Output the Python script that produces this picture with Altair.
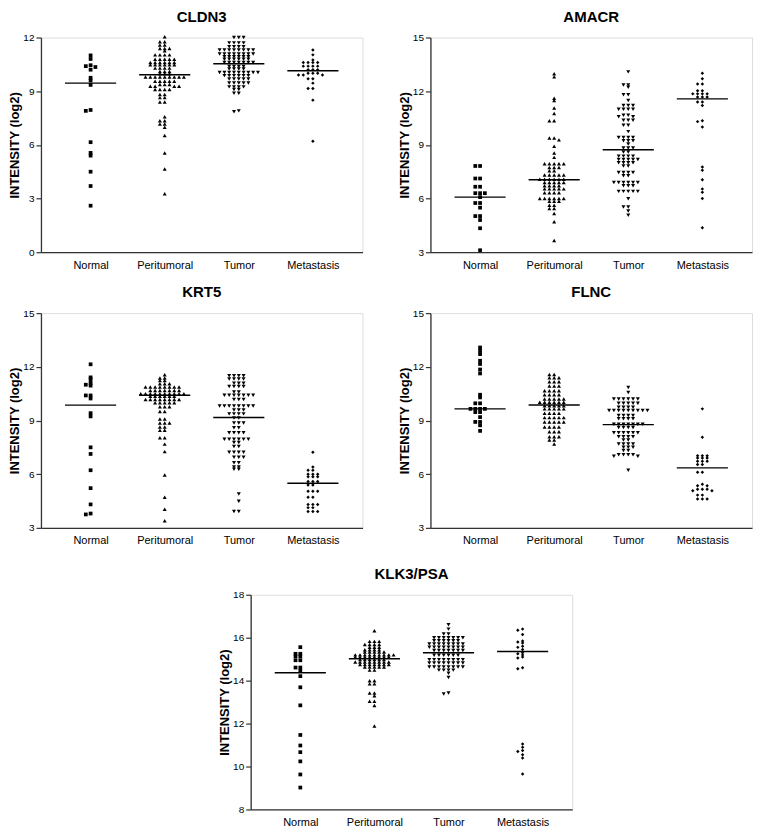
import altair as alt
import pandas as pd

CATEGORIES = ["Normal", "Peritumoral", "Tumor", "Metastasis"]
GENES = ["CLDN3", "AMACR", "KRT5", "FLNC", "KLK3/PSA"]

# ---------------- CLDN3 ----------------
CLDN3_NORMAL = [11.0, 10.8, 10.45, 10.4, 10.35, 10.2, 9.75, 9.6, 9.35, 7.95, 7.9,
                6.15, 5.55, 5.4, 4.5, 3.7, 2.6]
CLDN3_PERI = [12.04, 11.76, 11.76, 11.58, 11.58, 11.39, 11.39, 11.39, 11.26,
              11.03, 11.03, 11.03, 11.03, 10.79, 10.79, 10.79, 10.79, 10.79,
              10.6, 10.6, 10.6, 10.6, 10.6, 10.6, 10.47, 10.47, 10.47, 10.47, 10.47, 10.47,
              10.29, 10.29, 10.29, 10.29, 10.1, 10.1, 10.1, 9.98, 9.98, 9.98,
              9.79, 9.79, 9.79, 9.79, 9.79, 9.79, 9.79, 9.79, 9.79,
              9.56, 9.56, 9.56, 9.56, 9.56, 9.37, 9.37, 9.37, 9.28, 9.28, 9.28, 9.28,
              9.1, 9.1, 9.1, 9.1, 8.82, 8.82, 8.64, 8.64, 8.4, 8.4,
              7.57, 7.35, 7.35, 7.17, 7.17, 6.98, 6.52, 5.55, 4.65, 3.27]
CLDN3_TUMOR = [12.0, 12.0, 12.0, 11.7, 11.7, 11.7, 11.7, 11.48, 11.48, 11.48, 11.48,
               11.3, 11.3, 11.3, 11.3, 11.3, 11.3, 11.3, 11.3,
               11.08, 11.08, 11.08, 11.08, 11.08, 11.08, 11.08, 11.08,
               10.93, 10.93, 10.93, 10.93, 10.93, 10.93, 10.79, 10.79, 10.79, 10.79, 10.79, 10.79,
               10.6, 10.6, 10.6, 10.6, 10.6, 10.6, 10.6, 10.38, 10.38, 10.38, 10.38,
               10.24, 10.24, 10.24, 10.24, 10.05, 10.05, 10.05, 10.05, 10.05, 10.05, 10.05, 10.05, 10.05,
               9.87, 9.87, 9.87, 9.87, 9.87, 9.87, 9.68, 9.68, 9.68, 9.68, 9.68,
               9.46, 9.46, 9.46, 9.46, 9.46, 9.24, 9.24, 9.24, 9.24, 9.1, 9.1, 8.88, 8.88,
               7.9, 7.85]
CLDN3_MET = [11.3, 11.03, 10.75, 10.6, 10.6, 10.6, 10.6, 10.4, 10.4, 10.4, 10.4,
             10.2, 10.2, 10.2, 10.0, 10.0, 10.0, 9.9, 9.9, 9.9, 9.7, 9.7, 9.45,
             9.15, 9.15, 8.5, 6.2]
CLDN3_MEDIANS = [9.45, 9.92, 10.53, 10.14]

# ---------------- AMACR ----------------
AMACR_NORMAL = [7.82, 7.82, 7.12, 7.12, 6.66, 6.66, 6.3, 6.3, 6.3, 6.08, 5.75, 5.75,
                5.49, 5.02, 5.02, 4.8, 4.34, 3.11]
AMACR_PERI = [12.98, 12.8, 11.6, 11.48, 11.06, 10.75, 10.35, 10.35, 9.38, 9.38, 9.28,
              8.92, 8.55, 8.3, 7.95, 7.95, 7.95, 7.95, 7.95, 7.73, 7.73, 7.73, 7.55, 7.55,
              7.32, 7.32, 7.32, 7.32, 7.32, 7.08, 7.08, 7.08, 7.08, 7.08, 7.08,
              6.9, 6.9, 6.9, 6.9, 6.9, 6.72, 6.72, 6.72, 6.72, 6.54, 6.54, 6.54, 6.54, 6.54,
              6.32, 6.32, 6.32, 6.32, 6.0, 6.0, 6.0, 6.0, 6.0, 6.0, 5.85, 5.85, 5.85,
              5.62, 5.62, 5.44, 5.44, 5.16, 4.7, 3.66]
AMACR_TUMOR = [13.08, 12.35, 12.35, 12.22, 11.8, 11.8, 11.48, 11.2, 11.2, 11.2,
               10.99, 10.99, 10.99, 10.99, 10.66, 10.66, 10.57, 10.57, 10.38, 10.38, 10.38,
               10.1, 10.1, 9.74, 9.41, 9.41, 9.41, 9.41, 9.23, 9.23, 9.23, 9.05,
               8.83, 8.83, 8.83, 8.6, 8.6, 8.37, 8.37, 8.37, 8.37, 8.18, 8.18, 8.18, 8.18, 8.18,
               8.0, 8.0, 8.0, 8.0, 7.82, 7.82, 7.45, 7.45, 7.45, 7.45, 7.27, 7.27,
               6.9, 6.9, 6.9, 6.9, 6.9, 6.9, 6.72, 6.72, 6.72, 6.4, 6.4, 6.4, 6.4, 6.4,
               5.99, 5.53, 5.53, 5.3, 5.07]
AMACR_MET = [13.0, 12.7, 12.4, 12.4, 12.03, 12.03, 11.85, 11.85, 11.85, 11.85,
             11.67, 11.67, 11.67, 11.39, 11.39, 11.2, 10.35, 10.3, 10.0,
             7.76, 7.58, 7.05, 6.54, 6.35, 6.0, 4.37]
AMACR_MEDIANS = [6.08, 7.05, 8.73, 11.57]

# ---------------- KRT5 ----------------
KRT5_NORMAL = [12.14, 11.41, 11.3, 11.1, 11.0, 10.95, 10.4, 10.4, 10.23, 9.41, 9.23,
               7.5, 7.13, 6.22, 5.22, 4.31, 3.8, 3.75]
KRT5_PERI = [11.56, 11.38, 11.38, 11.23, 11.23, 11.05, 11.05, 11.05,
             10.87, 10.87, 10.87, 10.87, 10.87, 10.87, 10.87, 10.87,
             10.68, 10.68, 10.68, 10.68, 10.68, 10.68, 10.68,
             10.5, 10.5, 10.5, 10.5, 10.5, 10.5, 10.5, 10.5, 10.5, 10.5,
             10.36, 10.36, 10.36, 10.36, 10.36, 10.36,
             10.17, 10.17, 10.17, 10.17, 10.17, 10.17, 10.17, 10.17,
             9.99, 9.99, 9.99, 9.99, 9.99, 9.77, 9.77, 9.77, 9.5, 9.5, 9.08, 9.08,
             8.86, 8.86, 8.86, 8.64, 8.64, 8.46, 8.46, 8.04, 8.04, 7.68, 7.26,
             5.95, 4.71, 4.04, 3.4]
KRT5_TUMOR = [11.5, 11.5, 11.5, 11.5, 11.32, 11.32, 11.32, 11.32, 11.08, 11.08, 11.08,
              10.9, 10.9, 10.9, 10.9, 10.59, 10.59, 10.41, 10.41, 10.41, 10.41, 10.41, 10.41, 10.41,
              10.17, 10.17, 10.17, 9.81, 9.81, 9.81, 9.81, 9.81, 9.81, 9.81, 9.81,
              9.59, 9.59, 9.59, 9.37, 9.37, 9.37, 9.37, 9.14, 9.14, 8.86, 8.86, 8.86,
              8.59, 8.59, 8.32, 8.32, 8.32, 8.32, 7.95, 7.95, 7.95, 7.95, 7.95, 7.95,
              7.77, 7.77, 7.55, 7.55, 7.22, 7.22, 7.22, 7.22, 6.95, 6.95, 6.95,
              6.64, 6.64, 6.4, 6.4, 6.28, 6.28, 4.89, 4.49, 3.91, 3.91]
KRT5_MET = [7.22, 6.4, 6.22, 6.22, 5.99, 5.99, 5.99, 5.86, 5.86, 5.86, 5.59, 5.59, 5.59,
            5.4, 5.4, 5.04, 5.04, 5.04, 4.71, 4.71, 4.31, 4.31, 4.31, 4.13, 4.13,
            3.91, 3.91, 3.91]
KRT5_MEDIANS = [9.86, 10.41, 9.17, 5.49]

# ---------------- FLNC ----------------
FLNC_NORMAL = [13.08, 12.89, 12.71, 12.34, 12.16, 11.85, 11.63, 10.44, 10.29, 9.96, 9.96,
               9.65, 9.65, 9.65, 9.65, 9.47, 9.47, 9.19, 8.92, 8.92, 8.73, 8.42]
FLNC_PERI = [11.57, 11.57, 11.39, 11.39, 11.39, 11.17, 11.17, 11.17, 10.93, 10.93, 10.93,
             10.66, 10.66, 10.66, 10.66, 10.44, 10.44, 10.44, 10.44,
             10.2, 10.2, 10.2, 10.2, 10.2, 10.02, 10.02, 10.02, 10.02, 10.02, 10.02,
             9.83, 9.83, 9.83, 9.83, 9.83, 9.65, 9.65, 9.65, 9.65, 9.65,
             9.41, 9.41, 9.41, 9.41, 9.16, 9.16, 9.16, 9.16, 9.16,
             8.92, 8.92, 8.92, 8.92, 8.92, 8.64, 8.64, 8.64, 8.64,
             8.37, 8.37, 8.37, 8.09, 8.09, 8.09, 7.91, 7.91, 7.69]
FLNC_TUMOR = [10.84, 10.57, 10.2, 10.2, 10.2, 10.2, 10.2, 10.2, 9.96, 9.96, 9.96, 9.96, 9.96,
              9.74, 9.74, 9.74, 9.74, 9.56, 9.56, 9.56, 9.56, 9.56, 9.56, 9.56, 9.56, 9.56,
              9.28, 9.28, 9.28, 9.28, 9.1, 9.1, 9.1, 9.1,
              8.79, 8.79, 8.79, 8.79, 8.79, 8.79, 8.79, 8.61, 8.61, 8.61, 8.61,
              8.31, 8.31, 8.31, 8.31, 8.31, 8.31, 8.09, 8.09, 8.09, 8.09, 7.91, 7.91,
              7.69, 7.69, 7.69, 7.69, 7.51, 7.51, 7.51, 7.32, 7.32,
              7.09, 7.09, 7.09, 7.09, 7.0, 7.0, 6.22]
FLNC_MET = [9.65, 8.06, 7.03, 7.03, 7.03, 6.9, 6.9, 6.9, 6.72, 6.72, 6.72, 6.54, 6.54,
            6.11, 6.11, 5.44, 5.35, 5.35, 5.16, 5.16, 5.16, 5.07, 5.07, 4.83, 4.83,
            4.61, 4.61, 4.61]
FLNC_MEDIANS = [9.65, 9.87, 8.77, 6.35]

# ---------------- KLK3/PSA ----------------
KLK3_NORMAL = [15.56, 15.25, 15.25, 15.13, 15.13, 14.95, 14.95, 14.61, 14.61, 14.46,
               14.21, 13.69, 12.85, 11.47, 10.98, 10.67, 10.24, 9.63, 9.02]
KLK3_PERI = [16.32, 15.83, 15.83, 15.83, 15.68, 15.68, 15.68, 15.68, 15.56, 15.56, 15.56,
             15.44, 15.44, 15.44, 15.44, 15.33, 15.33, 15.33, 15.33, 15.33,
             15.2, 15.2, 15.2, 15.2, 15.2, 15.2, 15.2, 15.2, 15.2,
             15.1, 15.1, 15.1, 15.1, 15.1, 15.1, 15.1, 15.1,
             14.98, 14.98, 14.98, 14.98, 14.98, 14.98,
             14.87, 14.87, 14.87, 14.87, 14.87, 14.87, 14.87, 14.87,
             14.75, 14.75, 14.75, 14.75, 14.75, 14.75, 14.75,
             14.64, 14.64, 14.64, 14.64, 14.64, 14.49, 14.49,
             14.0, 14.0, 13.85, 13.85, 13.42, 13.42, 13.3, 13.04, 13.04, 12.84, 11.89]
KLK3_TUMOR = [16.6, 16.4, 16.17, 16.17, 16.0, 16.0, 16.0, 16.0, 16.0, 16.0, 16.0,
              15.86, 15.86, 15.86, 15.86, 15.86, 15.86,
              15.71, 15.71, 15.71, 15.71, 15.71, 15.71, 15.71, 15.71,
              15.56, 15.56, 15.56, 15.56, 15.56, 15.56, 15.56, 15.56,
              15.4, 15.4, 15.4, 15.4, 15.4, 15.4, 15.4,
              15.18, 15.18, 15.18, 15.18, 15.18, 15.18,
              14.98, 14.98, 14.98, 14.98, 14.98, 14.98, 14.98, 14.98,
              14.82, 14.82, 14.82, 14.82, 14.82, 14.82, 14.82, 14.82,
              14.64, 14.64, 14.64, 14.64, 14.64, 14.64, 14.64, 14.64,
              14.49, 14.49, 14.49, 14.49, 14.34, 14.15, 13.42, 13.38]
KLK3_MET = [16.4, 16.35, 16.15, 15.85, 15.8, 15.75, 15.6, 15.55, 15.45, 15.3, 15.25,
            15.2, 15.1, 15.05, 14.6, 14.55, 11.05, 10.9, 10.75, 10.7, 10.55, 10.4, 9.65]
KLK3_MEDIANS = [14.37, 15.02, 15.3, 15.36]

Y_DOMAINS = [[0, 12], [3, 15], [3, 15], [3, 15], [8, 18]]
Y_TICKS = [[0, 3, 6, 9, 12], [3, 6, 9, 12, 15], [3, 6, 9, 12, 15], [3, 6, 9, 12, 15],
           [8, 10, 12, 14, 16, 18]]

# ---------------- layout / style ----------------
FONT = "Liberation Sans"
PW, PH = 322, 215
X_DOMAIN = [0.33, 4.67]
X_PPU = PW / (X_DOMAIN[1] - X_DOMAIN[0])
HALF_LINE = 0.345
SHAPES = ["square", "triangle-up", "triangle-down", "diamond"]
SIZES = [14, 16, 16, 12]
AXIS_COLOR = "#333333"


def swarm(values, ppu, hx=4.8, hy=1.9):
    """Beeswarm offsets (pixels) computed from the values."""
    order = sorted(range(len(values)), key=lambda i: -values[i])
    placed = []
    offs = [0.0] * len(values)
    for i in order:
        y = values[i] * ppu
        near = [px for (py, px) in placed if abs(py - y) < hy]
        cands = [0.0]
        for px in near:
            cands += [px - hx, px + hx]
        valid = [c for c in cands if all(abs(c - px) >= hx - 1e-6 for px in near)]
        side = 1 if len(near) % 2 else -1
        best = min(valid, key=lambda c: (round(abs(c), 6), side * c))
        offs[i] = best
        placed.append((y, best))
    return offs


label_expr = " : ".join(
    f"datum.value == {i + 1} ? '{c}'" for i, c in enumerate(CATEGORIES)) + " : ''"


def panel(title, groups, medians, ydom, yticks):
    ppu = PH / (ydom[1] - ydom[0])
    rows = []
    for gi, vals in enumerate(groups):
        offs = swarm(vals, ppu)
        for v, o in zip(vals, offs):
            rows.append({"grp": CATEGORIES[gi], "x": gi + 1 + o / X_PPU, "v": v,
                         "shp": SHAPES[gi], "sz": SIZES[gi]})
    pts = pd.DataFrame(rows)
    med = pd.DataFrame({"grp": CATEGORIES,
                        "x": [i + 1 - HALF_LINE for i in range(4)],
                        "x2": [i + 1 + HALF_LINE for i in range(4)],
                        "v": medians})
    xax = alt.Axis(values=[1, 2, 3, 4], labelExpr=label_expr, ticks=False, tickSize=0,
                   grid=False, domainColor=AXIS_COLOR, domainWidth=1.3, labelPadding=7,
                   labelFontSize=11, labelFont=FONT, labelColor="black",
                   labelOverlap=False, labelFlush=False, title=None)
    yax = alt.Axis(values=yticks, grid=False, domainColor=AXIS_COLOR, domainWidth=1.3,
                   tickColor=AXIS_COLOR, tickWidth=1.2, tickSize=5, labelPadding=2,
                   labelFontSize=10, labelFont=FONT, labelColor="black",
                   title="INTENSITY (log2)", titleFont=FONT, titleFontSize=13,
                   titleFontWeight="bold", titleColor="black", titlePadding=1,
                   labelFlush=False)
    xs = alt.Scale(domain=X_DOMAIN, nice=False, zero=False)
    ys = alt.Scale(domain=ydom, nice=False, zero=False)
    points = alt.Chart(pts).mark_point(filled=True, color="black", opacity=1).encode(
        x=alt.X("x:Q", scale=xs, axis=xax),
        y=alt.Y("v:Q", scale=ys, axis=yax),
        shape=alt.Shape("shp:N", scale=None),
        size=alt.Size("sz:Q", scale=None),
    )
    lines = alt.Chart(med).mark_rule(color="black", strokeWidth=1.4).encode(
        x=alt.X("x:Q", scale=xs, axis=xax),
        x2="x2:Q",
        y=alt.Y("v:Q", scale=ys, axis=yax),
    )
    return alt.layer(points, lines).properties(
        width=PW, height=PH,
        title=alt.TitleParams(title, font=FONT, fontSize=15, fontWeight="bold",
                              anchor="middle", frame="group", offset=8, color="black"))


p1 = panel(GENES[0], [CLDN3_NORMAL, CLDN3_PERI, CLDN3_TUMOR, CLDN3_MET], CLDN3_MEDIANS,
           Y_DOMAINS[0], Y_TICKS[0])
p2 = panel(GENES[1], [AMACR_NORMAL, AMACR_PERI, AMACR_TUMOR, AMACR_MET], AMACR_MEDIANS,
           Y_DOMAINS[1], Y_TICKS[1])
p3 = panel(GENES[2], [KRT5_NORMAL, KRT5_PERI, KRT5_TUMOR, KRT5_MET], KRT5_MEDIANS,
           Y_DOMAINS[2], Y_TICKS[2])
p4 = panel(GENES[3], [FLNC_NORMAL, FLNC_PERI, FLNC_TUMOR, FLNC_MET], FLNC_MEDIANS,
           Y_DOMAINS[3], Y_TICKS[3])
p5 = panel(GENES[4], [KLK3_NORMAL, KLK3_PERI, KLK3_TUMOR, KLK3_MET], KLK3_MEDIANS,
           Y_DOMAINS[4], Y_TICKS[4])

spacer = alt.Chart(pd.DataFrame({"s": [0]})).mark_point(opacity=0, size=0).encode(
    x=alt.X("s:Q", axis=None), y=alt.Y("s:Q", axis=None)
).properties(width=143, height=2,
             view=alt.ViewBackground(stroke="white", strokeOpacity=0, strokeWidth=0,
                                     fill="white", fillOpacity=0))

row1 = alt.hconcat(p1, p2, spacing=34)
row2 = alt.hconcat(p3, p4, spacing=34)
row3 = alt.hconcat(spacer, p5, spacing=34)

chart = alt.vconcat(alt.vconcat(row1, row2, spacing=13), row3, spacing=19).properties(
    padding={"left": 0, "top": 0, "right": 0, "bottom": 0}
).configure_view(stroke=None, strokeWidth=0).configure(background="white")

chart.save("out.html", embed_options={"renderer": "svg", "actions": False})
